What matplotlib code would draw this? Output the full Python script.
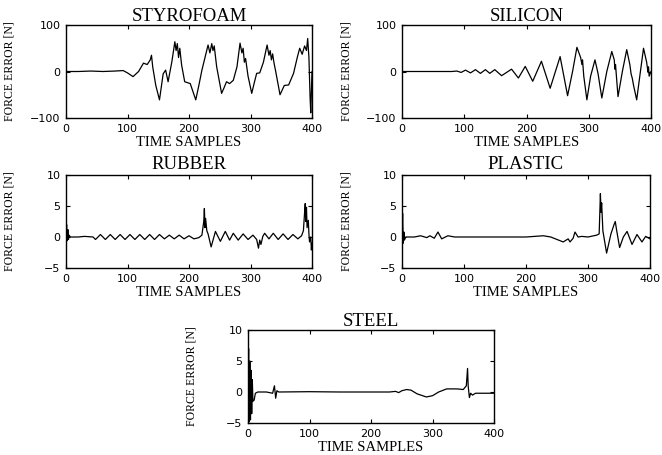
import matplotlib
matplotlib.use("Agg")
import matplotlib.pyplot as plt

# Force error traces (N) versus time sample, one per material
styro_t = [0, 20, 40, 60, 80, 93, 100, 109, 118, 126, 132, 137, 139, 141, 146, 152, 158, 162,
           166, 172, 177, 179, 181, 183, 185, 188, 193, 202, 211, 216, 221, 226, 231, 234,
           237, 239, 241, 245, 253, 257, 261, 266, 272, 278, 283, 286, 288, 290, 292, 296,
           302, 306, 310, 315, 321, 327, 330, 332, 334, 336, 338, 341, 348, 355, 362, 370,
           376, 380, 384, 388, 391, 393, 395, 397, 398, 400]
styro_f = [0, 0, 1, 0, 1, 2, -3, -11, 0, 18, 15, 25, 35, 10, -30, -61, -5, 3,
           -22, 20, 64, 45, 60, 30, 50, 14, -22, -26, -61, -30, 3, 30, 57, 40,
           60, 45, 55, 10, -47, -35, -22, -26, -19, 10, 61, 40, 50, 20, 28, -10,
           -47, -25, -4, -3, 20, 57, 35, 45, 25, 38, 20, 0, -50, -30, -29, -4,
           30, 50, 37, 55, 45, 71, 30, -60, -89, 0]

silicon_t = [0, 40, 80, 88, 95, 102, 110, 118, 126, 134, 141, 149, 160, 168, 176, 187, 198,
             210, 224, 238, 254, 266, 274, 281, 287, 289, 290, 292, 297, 303, 310, 315, 321,
             329, 337, 341, 342, 343, 347, 354, 361, 366, 368, 370, 372, 377, 383, 388, 393,
             395, 396, 397, 400]
silicon_f = [0, 0, 0, 1, -2, 3, -3, 4, -4, 4, -4, 4, -9, -2, 5, -14, 11,
             -21, 22, -36, 32, -52, 0, 52, 30, 15, 25, -10, -61, -10, 25, -5, -57,
             0, 43, 25, 5, 15, -54, 0, 47, 15, -5, -15, -30, -61, 0, 50, 20,
             0, 10, -10, 0]

rubber_t = [0, 1, 2, 3, 4, 5, 7, 20, 30, 44, 48, 56, 64, 72, 80, 88, 96, 104, 112, 120,
            128, 136, 144, 152, 160, 168, 176, 184, 192, 200, 208, 216, 221, 224, 225, 226,
            227, 229, 231, 236, 243, 251, 259, 266, 272, 280, 288, 296, 304, 310, 313, 315,
            317, 320, 323, 330, 337, 345, 353, 361, 369, 377, 383, 386, 388, 389, 390, 391,
            392, 394, 395, 396, 398, 399, 400]
rubber_f = [0, 2.0, -0.6, 1.2, -0.4, 0.3, 0, 0, 0.1, 0, -0.4, 0.4, -0.4, 0.4, -0.4, 0.4,
            -0.4, 0.4, -0.4, 0.4, -0.4, 0.4, -0.4, 0.4, -0.3, 0.3, -0.3, 0.3, -0.3, 0.2,
            -0.3, -0.1, 0.3, 2.5, 4.6, 1.5, 3.0, 1.0, 0.5, -1.6, 0.9, -0.7, 0.9, -0.5, 0.6,
            -0.5, 0.5, -0.4, 0.3, -0.4, -1.8, -0.5, -1.2, 0.1, 0.6, -0.3, 0.6, -0.4, 0.5,
            -0.4, 0.4, -0.3, 0.2, 1.0, 4.0, 5.4, 2.5, 4.8, 1.5, 2.7, 0.5, -0.8, 0.0, -2.1,
            -1.0]

plastic_t = [0, 1, 2, 3, 4, 6, 20, 30, 40, 45, 52, 58, 64, 74, 85, 150, 200, 228, 240, 250,
             260, 268, 271, 276, 279, 284, 290, 300, 314, 318, 320, 321, 322, 324, 330, 337,
             342, 344, 346, 351, 357, 363, 371, 379, 387, 393, 400]
plastic_f = [0, 3.8, -1.0, 0.8, -0.5, 0, 0, 0.2, -0.1, 0.2, -0.2, 0.8, -0.3, 0.2, 0, 0, 0,
             0.2, 0, -0.4, -0.8, -0.3, -0.8, -0.2, 0.8, 0, 0.1, 0, 0.3, 0.5, 7.0, 4.0, 5.5,
             1.0, -2.6, 0.5, 2.0, 2.5, 1.2, -1.7, 0, 0.9, -1.2, 0.4, -0.8, 0.1, -0.3]

steel_t = [0, 1, 2, 3, 4, 5, 6, 7, 8, 10, 12, 16, 30, 40, 43, 45, 47, 50, 100, 150, 200,
           230, 240, 245, 250, 258, 265, 275, 290, 300, 310, 323, 340, 350, 355, 357, 358,
           360, 362, 365, 370, 400]
steel_f = [0, 7.0, -4.8, 5.0, -4.5, 3.5, -3.5, 2.0, -1.5, -1.3, -0.2, 0, 0, -0.2, 1.0,
           -1.0, 0.2, 0, 0.05, 0, 0, 0, 0.1, -0.1, 0.2, 0.4, 0.3, -0.3, -0.8, -0.6, 0,
           0.5, 0.5, 0.4, 1.0, 3.8, 1.0, -0.9, -0.2, -0.5, -0.2, -0.2]

x_ticks = [0, 100, 200, 300, 400]
big_yticks = [-100, 0, 100]
small_yticks = [-5, 0, 5, 10]

W, H = 662, 455
fig = plt.figure(figsize=(W / 100, H / 100), dpi=100)
fig.patch.set_facecolor("white")

SERIF = ["Liberation Serif", "DejaVu Serif"]


def panel(px_left, px_top, px_w, px_h, t, f, title, yticks, ylim, title_pad):
    ax = fig.add_axes([px_left / W, 1 - (px_top + px_h) / H, px_w / W, px_h / H])
    ax.plot(t, f, color="black", lw=0.9)
    ax.set_xlim(0, 400)
    ax.set_ylim(*ylim)
    ax.set_xticks(x_ticks)
    ax.set_yticks(yticks)
    ax.tick_params(direction="in", top=True, right=True, length=3, width=0.8,
                   labelsize=8, pad=4)
    for lab in ax.get_xticklabels() + ax.get_yticklabels():
        lab.set_family("DejaVu Sans")
    for s in ax.spines.values():
        s.set_linewidth(1.0)
        s.set_color("black")
    ax.set_title(title, family=SERIF, fontsize=13.5, pad=title_pad)
    ax.set_xlabel("TIME SAMPLES", family=SERIF, fontsize=10.5, labelpad=2)
    ax.set_ylabel("FORCE ERROR [N]", family=SERIF, fontsize=8.5)
    ax.yaxis.set_label_coords(-50 / px_w, 0.5)
    return ax


panel(66, 25, 246, 93, styro_t, styro_f, "STYROFOAM", big_yticks, (-100, 100), 3)
panel(402, 25, 249, 93, silicon_t, silicon_f, "SILICON", big_yticks, (-100, 100), 3)
panel(66, 175, 246, 93, rubber_t, rubber_f, "RUBBER", small_yticks, (-5, 10), 4)
panel(402, 175, 248, 93, plastic_t, plastic_f, "PLASTIC", small_yticks, (-5, 10), 4)
panel(248, 330, 246, 93, steel_t, steel_f, "STEEL", small_yticks, (-5, 10), 3)

fig.savefig("out.png", dpi=100, facecolor="white")
